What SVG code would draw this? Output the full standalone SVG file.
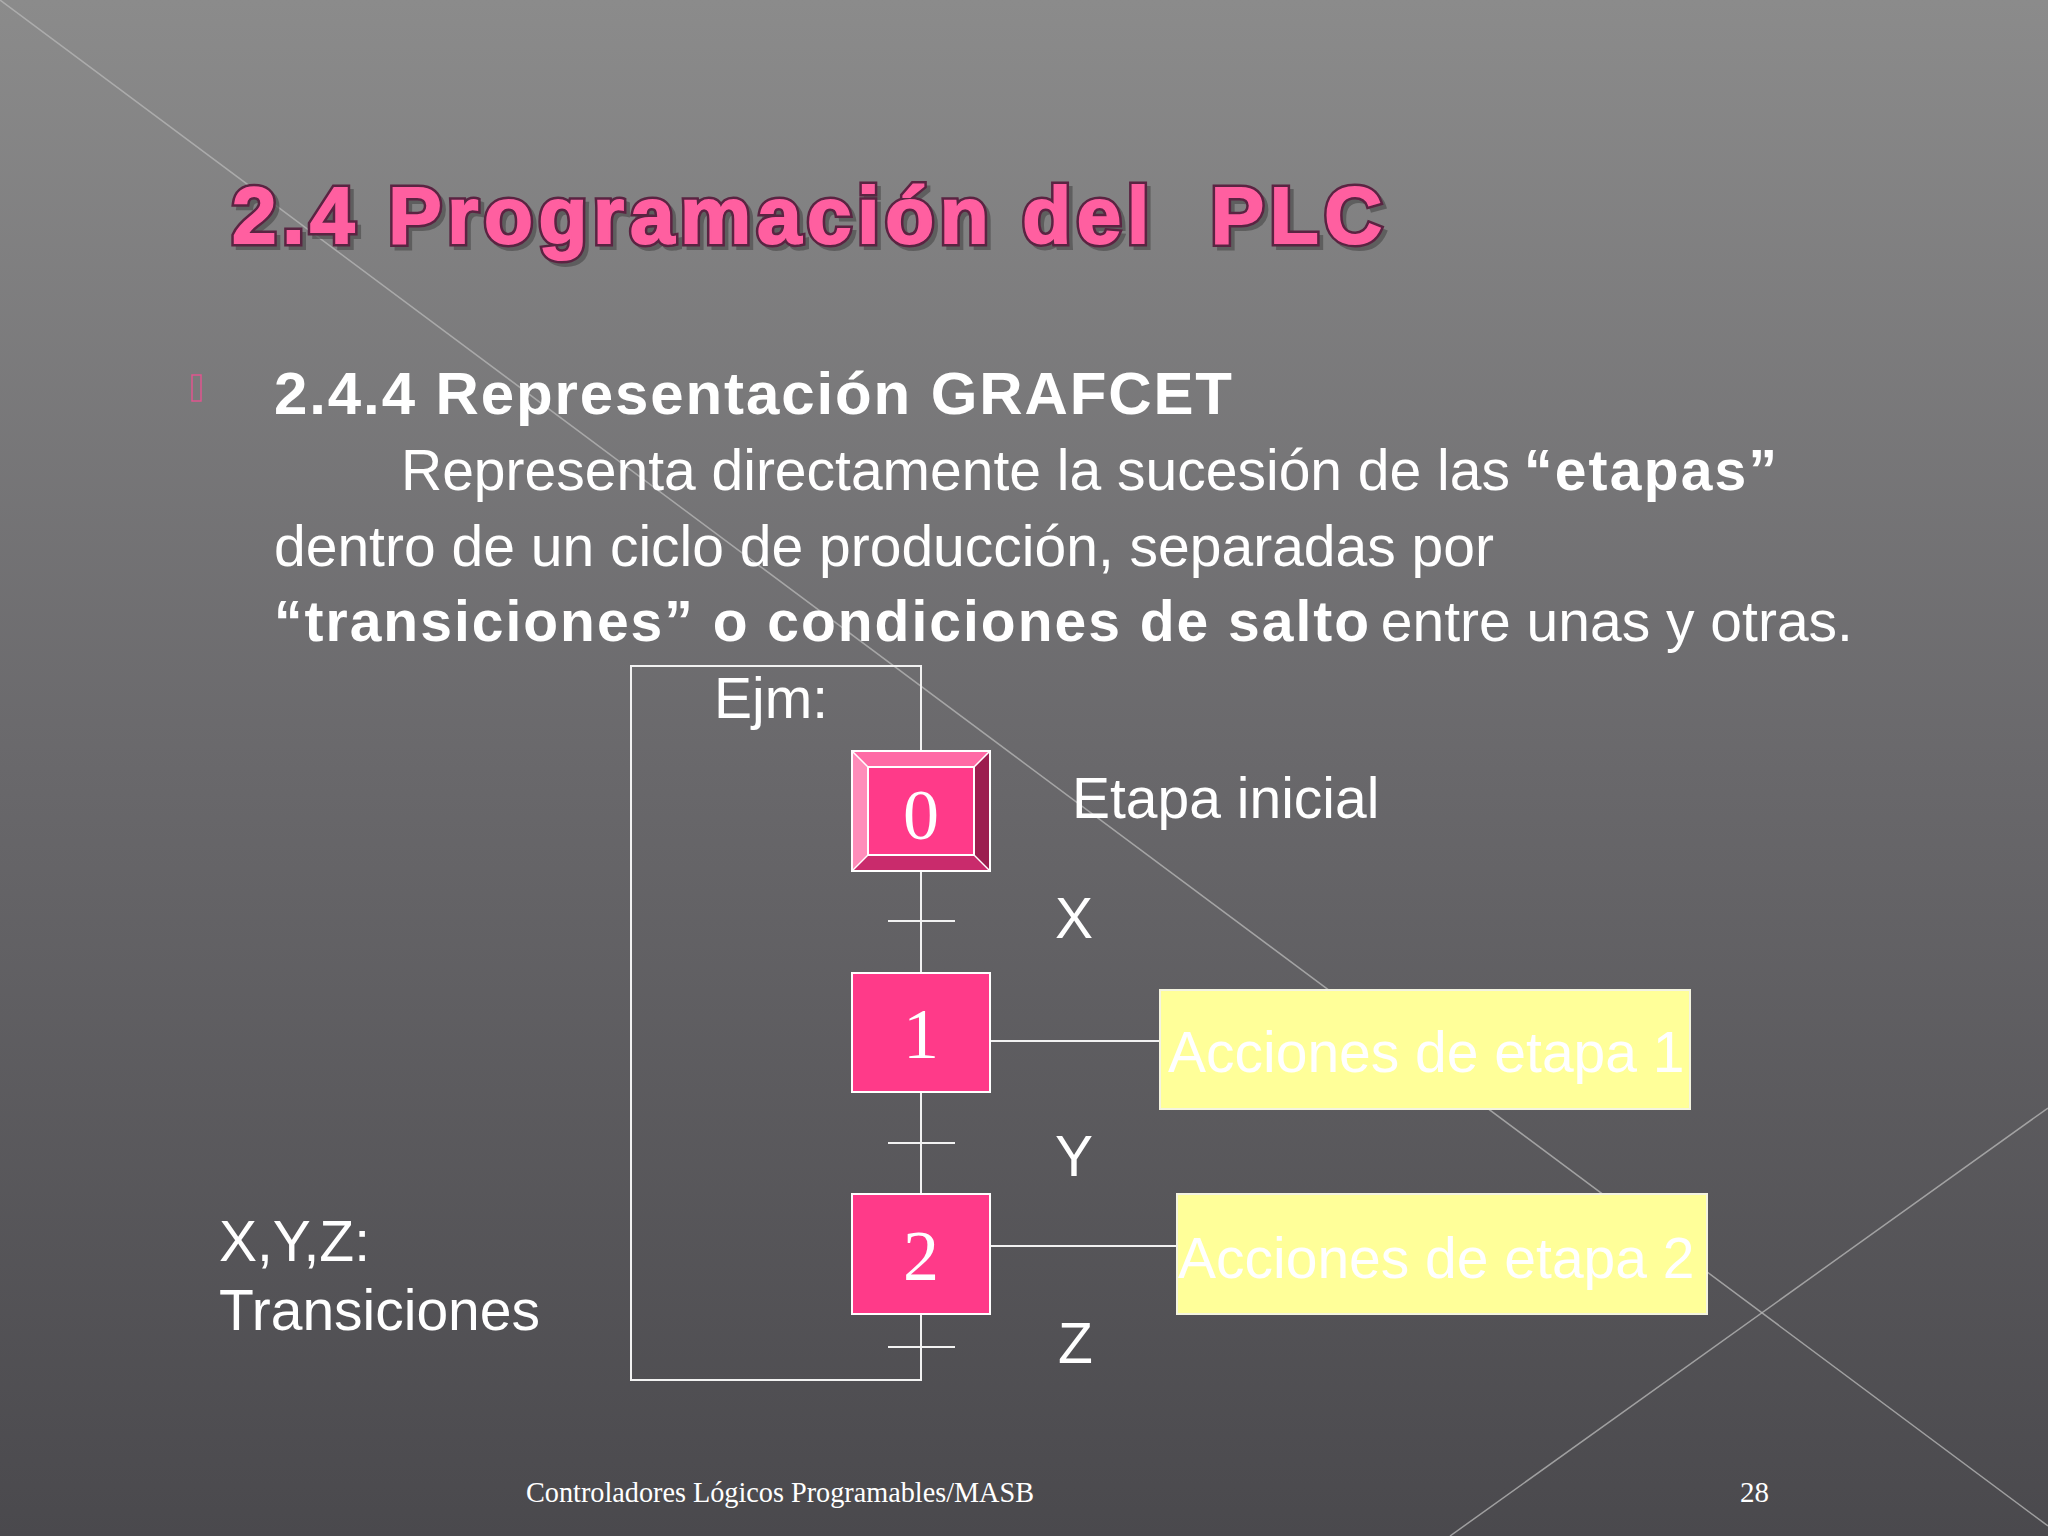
<svg xmlns="http://www.w3.org/2000/svg" width="2048" height="1536" viewBox="0 0 2048 1536">
<defs>
<linearGradient id="bg" x1="0" y1="0" x2="0" y2="1">
<stop offset="0" stop-color="#8b8b8b"/>
<stop offset="0.5" stop-color="#69686b"/>
<stop offset="1" stop-color="#4a494d"/>
</linearGradient>
<style>
.sans{font-family:"Liberation Sans",Arial,sans-serif;fill:#ffffff}
.serif{font-family:"Liberation Serif","Times New Roman",serif;fill:#ffffff}
.b{font-weight:bold}
.ttl{font-family:"Liberation Sans",Arial,sans-serif;font-weight:bold;font-size:80px}
.wire{stroke:#f2f2f2;stroke-width:2;fill:none}
.step{fill:#ff3a89;stroke:#ffffff;stroke-width:2}
.act{fill:#ffff99;stroke:#f4f4e0;stroke-width:2}
.deco{stroke:#b4b4b4;stroke-width:1.5;fill:none;opacity:0.8}
.num{font-family:"Liberation Serif","Times New Roman",serif;fill:#ffffff;font-size:72px;text-anchor:middle}
.lbl{font-family:"Liberation Sans",Arial,sans-serif;fill:#ffffff;font-size:57px}
</style>
</defs>
<rect x="0" y="0" width="2048" height="1536" fill="url(#bg)"/>
<g id="decoration">
<line class="deco" x1="0" y1="0" x2="2048" y2="1526"/>
<line class="deco" x1="2048" y1="1108" x2="1450" y2="1536"/>
</g>
<g id="title">
<text class="ttl" x="236" y="247" fill="#505050" stroke="#505050" stroke-width="6" opacity="0.7" textLength="1150" lengthAdjust="spacing" xml:space="preserve">2.4 Programación del  PLC</text>
<text class="ttl" x="232" y="243" fill="none" stroke="#5a2442" stroke-width="7" textLength="1150" lengthAdjust="spacing" xml:space="preserve">2.4 Programación del  PLC</text>
<text class="ttl" x="232" y="243" fill="#ff5fa0" stroke="#ff5fa0" stroke-width="2" textLength="1150" lengthAdjust="spacing" xml:space="preserve">2.4 Programación del  PLC</text>
</g>
<g id="body">
<rect x="192" y="375" width="9" height="26" fill="none" stroke="#e0558f" stroke-width="1.5"/>
<text class="sans b" x="274" y="414" font-size="60" textLength="958" lengthAdjust="spacing">2.4.4 Representación GRAFCET</text>
<text class="sans" x="401" y="490" font-size="57">Representa directamente la sucesión de las <tspan class="b" x="1524" letter-spacing="2.2">“etapas”</tspan></text>
<text class="sans" x="274" y="566" font-size="57">dentro de un ciclo de producción, separadas por</text>
<text class="sans" x="274" y="641" font-size="57"><tspan class="b" letter-spacing="2">“transiciones” o condiciones de salto</tspan><tspan x="1365"> entre unas y otras.</tspan></text>
</g>
<g id="connectors">
<polyline class="wire" points="921,751 921,666 631,666 631,1380 921,1380 921,1314"/>
<line class="wire" x1="921" y1="871" x2="921" y2="973"/>
<line class="wire" x1="921" y1="1092" x2="921" y2="1194"/>
<line class="wire" x1="888" y1="921" x2="955" y2="921"/>
<line class="wire" x1="888" y1="1143" x2="955" y2="1143"/>
<line class="wire" x1="888" y1="1347" x2="955" y2="1347"/>
<line class="wire" x1="990" y1="1041" x2="1160" y2="1041"/>
<line class="wire" x1="990" y1="1246" x2="1177" y2="1246"/>
</g>
<g id="label-ejm"><text class="lbl" x="714" y="718">Ejm:</text></g>
<g id="step0">
<polygon points="852,751 990,751 974,767 868,767" fill="#ff6aa5"/>
<polygon points="852,751 868,767 868,855 852,871" fill="#ff8dba"/>
<polygon points="990,751 990,871 974,855 974,767" fill="#9c1e4f"/>
<polygon points="852,871 868,855 974,855 990,871" fill="#c92b6c"/>
<rect x="868" y="767" width="106" height="88" fill="#ff3a89" stroke="#ffffff" stroke-width="2"/>
<rect x="852" y="751" width="138" height="120" fill="none" stroke="#ffffff" stroke-width="2"/>
<line x1="852" y1="751" x2="868" y2="767" stroke="#ffffff" stroke-width="1.5"/>
<line x1="990" y1="751" x2="974" y2="767" stroke="#ffffff" stroke-width="1.5"/>
<line x1="852" y1="871" x2="868" y2="855" stroke="#ffffff" stroke-width="1.5"/>
<line x1="990" y1="871" x2="974" y2="855" stroke="#ffffff" stroke-width="1.5"/>
<text class="num" x="921" y="839">0</text>
</g>
<g id="label-etapa-inicial"><text class="lbl" x="1072" y="818">Etapa inicial</text></g>
<g id="label-x"><text class="lbl" x="1055" y="938">X</text></g>
<g id="step1">
<rect class="step" x="852" y="973" width="138" height="119"/>
<text class="num" x="921" y="1058">1</text>
</g>
<g id="action1">
<rect class="act" x="1160" y="990" width="530" height="119"/>
<text class="lbl" x="1168" y="1072">Acciones de etapa 1</text>
</g>
<g id="label-y"><text class="lbl" x="1055" y="1176">Y</text></g>
<g id="step2">
<rect class="step" x="852" y="1194" width="138" height="120"/>
<text class="num" x="921" y="1280">2</text>
</g>
<g id="action2">
<rect class="act" x="1177" y="1194" width="530" height="120"/>
<text class="lbl" x="1178" y="1278">Acciones de etapa 2</text>
</g>
<g id="label-z"><text class="lbl" x="1058" y="1363">Z</text></g>
<g id="label-transiciones">
<text class="lbl" x="219" y="1261">X,Y,Z:</text>
<text class="lbl" x="219" y="1330">Transiciones</text>
</g>
<g id="footer">
<text class="serif" x="526" y="1502" font-size="29" textLength="508" lengthAdjust="spacingAndGlyphs">Controladores Lógicos Programables/MASB</text>
<text class="serif" x="1740" y="1502" font-size="29">28</text>
</g>
</svg>
